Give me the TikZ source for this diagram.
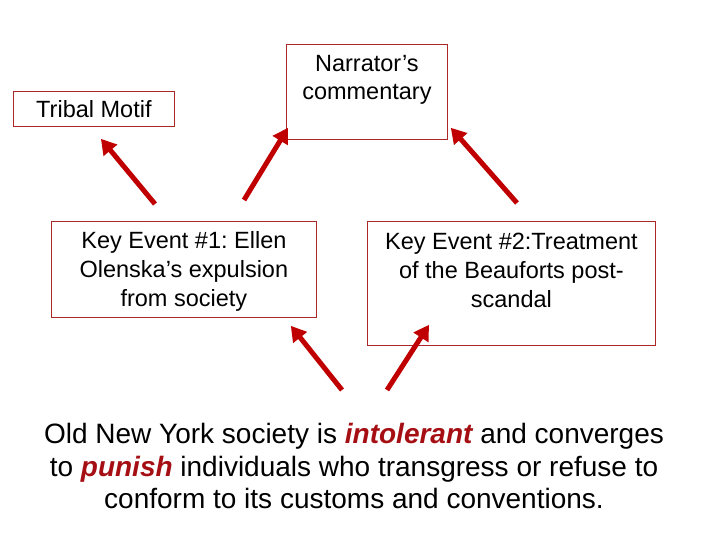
\documentclass[tikz,border=0pt]{standalone}
\usepackage{fontspec}
\setmainfont{Liberation Sans}
\usepackage{xcolor}
\usetikzlibrary{arrows.meta,positioning,calc}
\definecolor{boxred}{RGB}{170,40,40}
\definecolor{arrred}{RGB}{192,0,0}
\definecolor{wordred}{RGB}{165,15,20}
\newcommand{\keyword}[1]{\textcolor{wordred}{\bfseries\itshape #1}}
\frenchspacing

\begin{document}
\begin{tikzpicture}[
  x=1pt, y=-1pt,
  every node/.style={align=center, font=\fontsize{23.5}{29}\selectfont},
  box/.style={draw=boxred, line width=0.8pt, inner sep=0pt, anchor=north west},
  arr/.style={-{Triangle[length=15pt,width=17pt]}, line width=5pt, draw=arrred},
]
  \useasboundingbox (0,0) rectangle (720,540);

  % Top row
  \node[box, minimum width=161pt, minimum height=35pt] (tribal) at (13,91) {Tribal Motif};
  \node[box, minimum width=161pt, minimum height=95pt, text depth=28pt,
        font=\fontsize{23.5}{28}\selectfont] (narr) at (286,44)
    {Narrator's\\commentary};

  % Key events
  \node[box, minimum width=265pt, minimum height=96pt, text depth=0pt] (ev1) at (51,221)
    {Key Event \#1: Ellen\\Olenska's expulsion\\from society};
  \node[box, minimum width=288pt, minimum height=124pt, text depth=26pt] (ev2) at (367,221)
    {Key Event \#2:Treatment\\of the Beauforts post-\\scandal};

  % Conclusion
  \node[font=\fontsize{28}{32.5}\selectfont] (thesis) at (354,466)
    {Old New York society is \keyword{intolerant} and converges\\
     to \keyword{punish} individuals who transgress or refuse to\\
     conform to its customs and conventions.};

  % Arrow tails
  \coordinate (a1) at (155,204);
  \coordinate (a2) at (244,200);
  \coordinate (a3) at (517,203);
  \coordinate (a4) at (342,390);
  \coordinate (a5) at (387,390);

  % Arrows up to the boxes
  \draw[arr] (a1) -- ([xshift=7pt,yshift=-12pt]tribal.south);
  \draw[arr] (a2) -- ([xshift=2pt,yshift=12pt]narr.south west);
  \draw[arr] (a3) -- ([xshift=3pt,yshift=12pt]narr.south east);
  \draw[arr] (a4) -- ([xshift=-26pt,yshift=-8pt]ev1.south east);
  \draw[arr] (a5) -- ([xshift=62pt,yshift=21pt]ev2.south west);
\end{tikzpicture}
\end{document}
